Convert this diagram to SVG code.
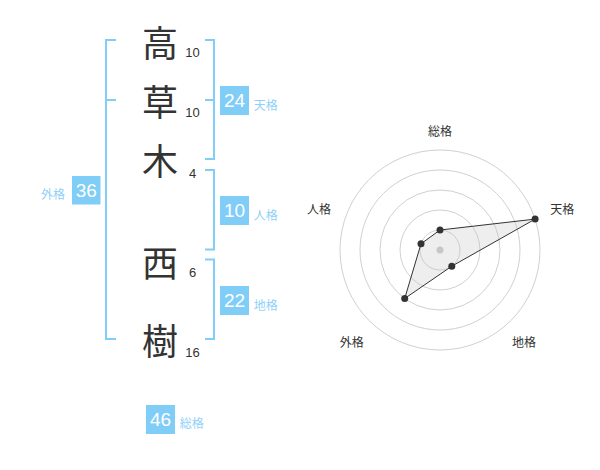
<svg xmlns="http://www.w3.org/2000/svg" width="600" height="470" viewBox="0 0 600 470">
<style>
.kanji{font-family:"Noto Sans CJK JP","Noto Sans CJK SC",sans-serif;font-size:36px;fill:#333;text-anchor:middle;dominant-baseline:central}
.num{font-family:"Liberation Sans",Arial,sans-serif;font-size:13px;fill:#333;text-anchor:middle;dominant-baseline:central}
.br{fill:none;stroke:#80cdf8;stroke-width:2}
.box{fill:#80cdf8}
.bnum{font-family:"Liberation Sans",Arial,sans-serif;font-size:19px;fill:#fff;text-anchor:middle;dominant-baseline:central}
.lbl{font-family:"Noto Sans CJK JP","Noto Sans CJK SC",sans-serif;font-size:12px;fill:#8fd1f7;text-anchor:middle;dominant-baseline:central}
.ring{fill:none;stroke:#d0d0d0;stroke-width:1}
.rlbl{font-family:"Noto Sans CJK JP","Noto Sans CJK SC",sans-serif;font-size:12px;fill:#333;text-anchor:middle;dominant-baseline:central}
.pt{fill:#333}
</style>
<rect width="600" height="470" fill="#fff"/>
<g id="chars">
<g id="c1"><text class="kanji" x="160" y="41">高</text><text class="num" x="192.5" y="52.7">10</text></g>
<g id="c2"><text class="kanji" x="160" y="100">草</text><text class="num" x="192.5" y="112.7">10</text></g>
<g id="c3"><text class="kanji" x="160" y="159">木</text><text class="num" x="192.5" y="173.3">4</text></g>
<g id="c4"><text class="kanji" x="160" y="261">西</text><text class="num" x="192.5" y="272.7">6</text></g>
<g id="c5"><text class="kanji" x="160" y="339">樹</text><text class="num" x="192.5" y="352.7">16</text></g>
</g>
<g id="connectors">
<path class="br" d="M116,40 H106 V339 H116 M106,100 H116"/>
<path class="br" d="M205,40 H214 V159 H205 M214,100 H205"/>
<path class="br" d="M205,170 H214 V249.5 H205"/>
<path class="br" d="M205,259.5 H214 V339 H205"/>
</g>
<g id="gaikaku"><rect class="box" x="72" y="176" width="28.5" height="28.5"/><text class="bnum" x="86.25" y="190.5">36</text><text class="lbl" x="53" y="193.5">外格</text></g>
<g id="tenkaku"><rect class="box" x="220" y="86" width="29" height="29"/><text class="bnum" x="234.5" y="100.5">24</text><text class="lbl" x="265.7" y="104">天格</text></g>
<g id="jinkaku"><rect class="box" x="220" y="196" width="29" height="29"/><text class="bnum" x="234.5" y="210.5">10</text><text class="lbl" x="265.7" y="214">人格</text></g>
<g id="chikaku"><rect class="box" x="220" y="286" width="29" height="29"/><text class="bnum" x="234.5" y="300.5">22</text><text class="lbl" x="265.7" y="304">地格</text></g>
<g id="soukaku"><rect class="box" x="146" y="405" width="29" height="29"/><text class="bnum" x="160.5" y="419.5">46</text><text class="lbl" x="191.7" y="422.7">総格</text></g>
<g id="radar">
<circle class="ring" cx="440" cy="250" r="20"/>
<circle class="ring" cx="440" cy="250" r="40"/>
<circle class="ring" cx="440" cy="250" r="60"/>
<circle class="ring" cx="440" cy="250" r="80"/>
<circle class="ring" cx="440" cy="250" r="100"/>
<circle cx="440" cy="250" r="3.5" fill="#c8c8c8"/>
<polygon points="440,230 535.1,219.1 451.8,266.2 404.7,298.5 421,243.8" fill="rgba(200,200,200,0.3)" stroke="#333" stroke-width="1"/>
<circle class="pt" cx="440" cy="230" r="3.5"/>
<circle class="pt" cx="535.1" cy="219.1" r="3.5"/>
<circle class="pt" cx="451.8" cy="266.2" r="3.5"/>
<circle class="pt" cx="404.7" cy="298.5" r="3.5"/>
<circle class="pt" cx="421" cy="243.8" r="3.5"/>
<text class="rlbl" x="440" y="130.7">総格</text>
<text class="rlbl" x="562.3" y="208.7">天格</text>
<text class="rlbl" x="319" y="208.7">人格</text>
<text class="rlbl" x="351.7" y="341">外格</text>
<text class="rlbl" x="524" y="341">地格</text>
</g>
</svg>
